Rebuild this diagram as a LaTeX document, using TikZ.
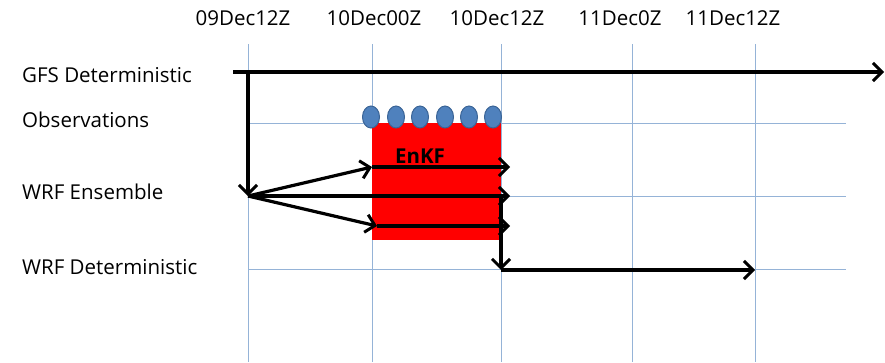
\documentclass[tikz,border=0pt]{standalone}
\usepackage{fontspec}
\setmainfont{Open Sans}
\usetikzlibrary{arrows.meta,shapes.geometric}
\definecolor{gridc}{HTML}{95B3D7}
\definecolor{obsfill}{HTML}{4F81BD}
\definecolor{obsdraw}{HTML}{3A6496}
\tikzset{
  gridline/.style={draw=gridc, line width=1pt},
  flow/.style={line width=3.2pt, -{Straight Barb[length=9pt,width=18pt,line width=3pt]}},
  rowlabel/.style={anchor=west, font=\fontsize{20.5}{24}\selectfont, inner sep=0pt},
  timelabel/.style={anchor=base, font=\fontsize{20.5}{24}\selectfont, inner sep=0pt},
  obs/.style={ellipse, draw=obsdraw, line width=1pt, fill=obsfill, minimum width=17pt, minimum height=22pt, inner sep=0pt},
}
\begin{document}
\begin{tikzpicture}[x=1pt,y=-1pt]
\useasboundingbox (0,0) rectangle (885,362);
% grid
\foreach \x in {248,372,501,632,755} \draw[gridline] (\x,44) -- (\x,362);
\foreach \y in {123,196,269} \draw[gridline] (248,\y) -- (846,\y);
% time labels
\node[timelabel] (t1) at (243,25) {09Dec12Z};
\node[timelabel] (t2) at (374,25) {10Dec00Z};
\node[timelabel] (t3) at (497,25) {10Dec12Z};
\node[timelabel] (t4) at (620,25) {11Dec0Z};
\node[timelabel] (t5) at (733,25) {11Dec12Z};
% row labels
\node[rowlabel] (l1) at (22,75) {GFS Deterministic};
\node[rowlabel] (l2) at (22,120) {Observations};
\node[rowlabel] (l3) at (22,192) {WRF Ensemble};
\node[rowlabel] (l4) at (22,267) {WRF Deterministic};
% EnKF box
\fill[red] (372,123) rectangle (501,240);
\node[font=\bfseries\fontsize{20.5}{24}\selectfont, inner sep=0pt] (enkf) at (420,156) {EnKF};
% observations
\foreach \x/\n in {371/1,396/2,420/3,445/4,469/5,493/6}
  \node[obs] (o\n) at (\x,117) {};
% coordinates
\coordinate (gs) at (233,72);
\coordinate (ge) at (884,72);
\coordinate (g0) at (248,72);
\coordinate (e0) at (248,196);
\coordinate (u1) at (372,167);
\coordinate (u2) at (510,167);
\coordinate (m2) at (510,196);
\coordinate (d1) at (377,226);
\coordinate (d2) at (510,226);
\coordinate (w0) at (501,196);
\coordinate (w1) at (501,270);
\coordinate (w2) at (755,270);
% arrows
\draw[flow] (gs) -- (ge);
\draw[flow, line cap=rect] (g0) -- (e0);
\draw[flow] (e0) -- (u1);
\draw[flow] (u1) -- (u2);
\draw[flow] (e0) -- (m2);
\draw[flow] (e0) -- (d1);
\draw[flow] (d1) -- (d2);
\draw[flow] (w0) -- (w1);
\draw[flow] (w1) -- (w2);
\end{tikzpicture}
\end{document}
